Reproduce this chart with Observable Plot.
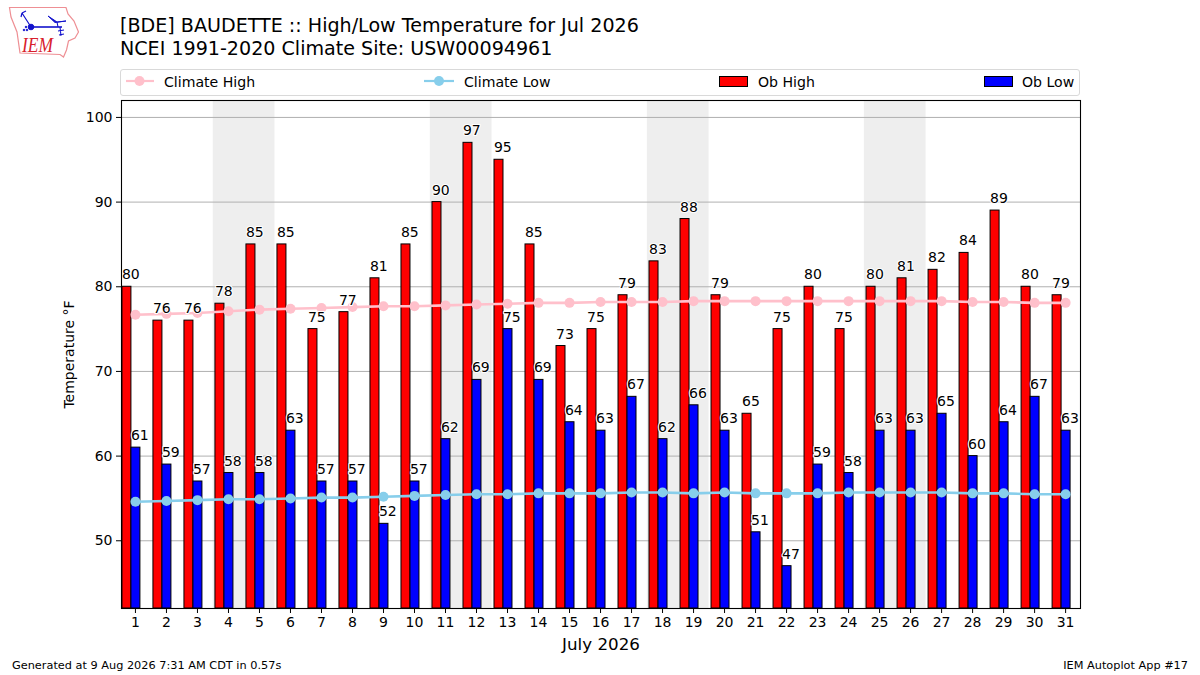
<!DOCTYPE html>
<html><head><meta charset="utf-8">
<script src="https://cdn.jsdelivr.net/npm/d3@7"></script>
<script src="https://cdn.jsdelivr.net/npm/@observablehq/plot@0.6"></script>
<style>
html,body{margin:0;padding:0;background:#fff;font-family:"DejaVu Sans",sans-serif;color:#000}
#wrap{position:relative;width:1200px;height:675px;overflow:hidden}
#chart{position:absolute;left:0;top:0}
.t{position:absolute;white-space:nowrap;line-height:1}
#legend{position:absolute;left:120px;top:69px;width:958px;height:25px;border:1px solid #d9d9d9;border-radius:3px}
.sw{position:absolute;left:0;top:0}
</style></head><body>
<div id="wrap">
<div id="chart"></div>
<svg class="sw" width="90" height="62" viewBox="0 0 90 62">
  <path d="M9.5 7.5 L66 7.5 L68 14 L74 21 L78.5 32 L75 38 L68.5 41 L66.5 50 L63.5 57 L60 54.5 L20 53 L17 32 L11 17 Z" fill="#fff" stroke="#ee8f94" stroke-width="1.2"/>
  <g stroke="#1212cc" fill="#1212cc">
    <path d="M31 27 L62 27" stroke-width="1.6"/>
    <circle cx="31" cy="27" r="2.8"/>
    <path d="M31 27 L22 13 M22 13 L21 17 M22 13 L26 11" stroke-width="1.2" fill="none"/>
    <path d="M48 16 L57 22 L66 21 L55 22.5 Z" stroke-width="1"/>
    <path d="M57 22 L58 27 M60 27 L61 36 M58 31 L64 30 M59 35 L64 34" stroke-width="1.1" fill="none"/>
    <circle cx="24" cy="30" r=".8"/><circle cx="26" cy="27" r=".8"/><circle cx="27" cy="30" r=".8"/>
  </g>
  <text x="22" y="52" font-family="Liberation Serif" font-style="italic" font-size="21" textLength="31" lengthAdjust="spacingAndGlyphs" fill="#d8202c">IEM</text>
</svg>
<div class="t" id="t1" style="left:120px;top:16px;font-size:19.1px">[BDE] BAUDETTE :: High/Low Temperature for Jul 2026</div>
<div class="t" id="t2" style="left:120px;top:39px;font-size:19.1px">NCEI 1991-2020 Climate Site: USW00094961</div>
<div id="legend">
  <svg class="sw" width="958" height="25" style="left:-1px;top:-1px">
    <line x1="6" x2="34" y1="12" y2="12" stroke="#ffc0cb" stroke-width="2.2"/><circle cx="19.5" cy="12" r="5" fill="#ffc0cb"/>
    <line x1="304" x2="334" y1="12" y2="12" stroke="#87ceeb" stroke-width="2.2"/><circle cx="319" cy="12" r="5" fill="#87ceeb"/>
    <rect x="599.5" y="7.5" width="28" height="10" fill="#f00" stroke="#000"/>
    <rect x="864.5" y="7.5" width="28" height="10" fill="#00f" stroke="#000"/>
  </svg>
  <div class="t" style="left:43px;top:5px;font-size:14.1px">Climate High</div>
  <div class="t" style="left:343px;top:5px;font-size:14.1px">Climate Low</div>
  <div class="t" style="left:637px;top:5px;font-size:14.1px">Ob High</div>
  <div class="t" style="left:901px;top:5px;font-size:14.1px">Ob Low</div>
</div>
<div class="t" style="left:12px;top:660px;font-size:11.3px">Generated at 9 Aug 2026 7:31 AM CDT in 0.57s</div>
<div class="t" style="right:12px;top:660px;font-size:11.3px">IEM Autoplot App #17</div>
</div>
<script>
const days = [1,2,3,4,5,6,7,8,9,10,11,12,13,14,15,16,17,18,19,20,21,22,23,24,25,26,27,28,29,30,31];
const obHigh = [80,76,76,78,85,85,75,77,81,85,90,97,95,85,73,75,79,83,88,79,65,75,80,75,80,81,82,84,89,80,79];
const obLow = [61,59,57,58,58,63,57,57,52,57,62,69,75,69,64,63,67,62,66,63,51,47,59,58,63,63,65,60,64,67,63];
const climateHigh = [76.7,76.8,76.9,77.1,77.3,77.4,77.5,77.6,77.7,77.7,77.8,77.9,78.0,78.1,78.1,78.2,78.2,78.2,78.3,78.3,78.3,78.3,78.3,78.3,78.3,78.3,78.3,78.2,78.2,78.1,78.1];
const climateLow = [54.6,54.7,54.8,54.9,54.9,55.0,55.1,55.1,55.2,55.3,55.4,55.5,55.5,55.6,55.6,55.6,55.7,55.7,55.6,55.7,55.6,55.6,55.6,55.7,55.7,55.7,55.7,55.6,55.6,55.5,55.5];
const weekendStarts = [4,11,18,25];
const yTicks = [50,60,70,80,90,100];

const rows = days.map((day,i)=>({day,high:obHigh[i],low:obLow[i],ch:climateHigh[i],cl:climateLow[i]}));
const base = 42;
const plot = Plot.plot({
  width:1200,height:675,
  marginLeft:121,marginRight:120,marginTop:100,marginBottom:67,
  style:{fontFamily:"'DejaVu Sans',sans-serif",background:"transparent",color:"#000"},
  x:{domain:[0.55,31.48],label:null},
  y:{domain:[base,102],label:null},
  marks:[
    Plot.rectY(weekendStarts,{x1:d=>d-0.49,x2:d=>d+1.5,y1:base,y2:102,fill:"#eeeeee"}),
    Plot.ruleY(yTicks,{stroke:"#b0b0b0",strokeWidth:1}),
    Plot.rectY(rows,{x1:d=>d.day-0.42,x2:d=>d.day-0.13,y1:base,y2:"high",fill:"#ff0000",stroke:"#000",strokeWidth:1,inset:0}),
    Plot.rectY(rows,{x1:d=>d.day-0.13,x2:d=>d.day+0.16,y1:base,y2:"low",fill:"#0000ff",stroke:"#000",strokeWidth:1,inset:0}),
    Plot.line(rows,{x:"day",y:"ch",stroke:"#ffc0cb",strokeWidth:2.6}),
    Plot.dot(rows,{x:"day",y:"ch",fill:"#ffc0cb",r:5}),
    Plot.line(rows,{x:"day",y:"cl",stroke:"#87ceeb",strokeWidth:2.6}),
    Plot.dot(rows,{x:"day",y:"cl",fill:"#87ceeb",r:5}),
    Plot.text(rows,{x:d=>d.day-0.15,y:"high",text:d=>String(d.high),dy:-12,fontSize:14,fill:"#000",stroke:"#fff",strokeWidth:2.2,paintOrder:"stroke"}),
    Plot.text(rows,{x:d=>d.day+0.14,y:"low",text:d=>String(d.low),dy:-12,fontSize:14,fill:"#000",stroke:"#fff",strokeWidth:2.2,paintOrder:"stroke"}),
    Plot.frame({stroke:"#000",strokeWidth:1.1}),
    Plot.axisX({ticks:days,tickFormat:d=>String(d),tickSize:5,tickPadding:4,fontSize:14,stroke:"#000",label:"July 2026",labelAnchor:"center",labelArrow:"none",labelOffset:41}),
    Plot.axisY({ticks:yTicks,tickSize:5,tickPadding:4,fontSize:14,stroke:"#000",label:"Temperature °F",labelAnchor:"center",labelArrow:"none",labelOffset:57})
  ]
});
document.getElementById("chart").appendChild(plot);
plot.querySelectorAll("[aria-label='x-axis label'] text").forEach(t=>t.style.fontSize="16.7px");
</script>
</body></html>
